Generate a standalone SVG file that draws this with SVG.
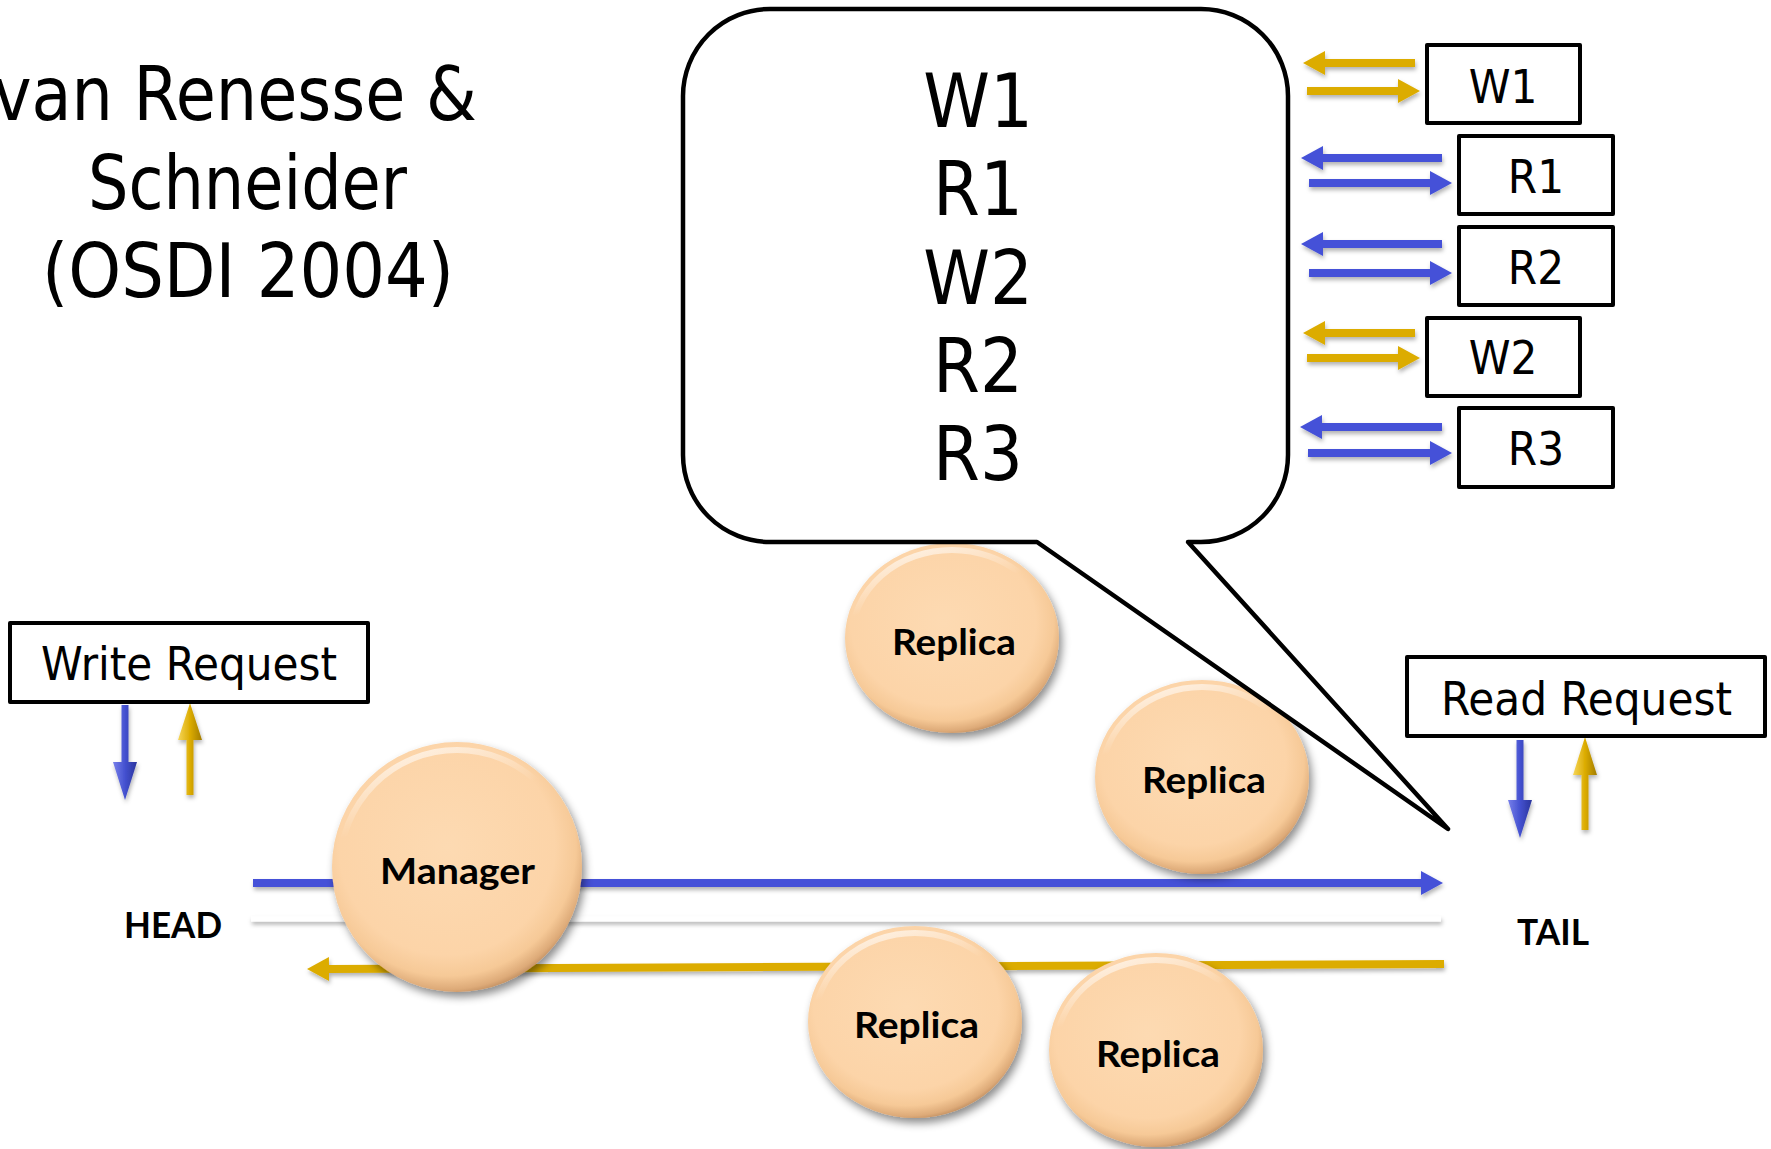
<svg xmlns="http://www.w3.org/2000/svg" width="1771" height="1149" viewBox="0 0 1771 1149">
  <style>
    .serifless { font-family: 'DejaVu Sans Condensed', 'DejaVu Sans', sans-serif; font-stretch: condensed; fill: #000; }
    .title { font-size: 74px; }
    .big { font-size: 75px; }
    .lbl { font-size: 47px; }
    .bold { font-family: Lato, 'Open Sans', 'DejaVu Sans', sans-serif; font-weight: 700; font-size: 37px; fill: #000; }
    .box { fill: #fff; stroke: #000; stroke-width: 4; stroke-linejoin: round; }
    .body { fill: url(#peach); filter: url(#ballShadow); }
    .rim { fill: none; stroke: url(#rimGrad); stroke-width: 6; }
    .blue { stroke: #4451D8; stroke-width: 8; fill: none; }
    .gold { stroke: #DCAC00; stroke-width: 8; fill: none; }
    .blueHead { marker-end: url(#headBlue); }
    .goldHead { marker-end: url(#headGold); }
  </style>
  <defs>
    <radialGradient id="peach" cx="46%" cy="42%" r="60%">
      <stop offset="0" stop-color="#FDDAB2"/>
      <stop offset="0.72" stop-color="#FCD4A8"/>
      <stop offset="0.86" stop-color="#F6C997"/>
      <stop offset="0.95" stop-color="#DDAA78"/>
      <stop offset="1" stop-color="#B9875A"/>
    </radialGradient>
    <linearGradient id="rimGrad" x1="0" y1="0" x2="0.3" y2="1">
      <stop offset="0" stop-color="#FFFFFF" stop-opacity="0.85"/>
      <stop offset="0.35" stop-color="#FFFFFF" stop-opacity="0"/>
      <stop offset="1" stop-color="#FFFFFF" stop-opacity="0"/>
    </linearGradient>
    <linearGradient id="bevelBlue" x1="0" y1="0" x2="1" y2="0">
      <stop offset="0" stop-color="#7880EA"/>
      <stop offset="0.5" stop-color="#4451D0"/>
      <stop offset="1" stop-color="#2A349C"/>
    </linearGradient>
    <linearGradient id="bevelGold" x1="0" y1="0" x2="1" y2="0">
      <stop offset="0" stop-color="#F6D65A"/>
      <stop offset="0.5" stop-color="#DCAC00"/>
      <stop offset="1" stop-color="#A27C00"/>
    </linearGradient>
    <filter id="ballShadow" x="-20%" y="-20%" width="150%" height="150%">
      <feDropShadow dx="3" dy="5" stdDeviation="4" flood-color="#000" flood-opacity="0.45"/>
    </filter>
    <filter id="lineShadow" x="-5%" y="-50%" width="110%" height="200%">
      <feDropShadow dx="1" dy="3" stdDeviation="2" flood-color="#000" flood-opacity="0.3"/>
    </filter>
    <marker id="headBlue" viewBox="0 0 22 24" refX="1" refY="12" markerWidth="22" markerHeight="24" markerUnits="userSpaceOnUse" orient="auto">
      <path d="M0,0 L22,12 L0,24 Z" fill="#4451D8"/>
    </marker>
    <marker id="headGold" viewBox="0 0 22 24" refX="1" refY="12" markerWidth="22" markerHeight="24" markerUnits="userSpaceOnUse" orient="auto">
      <path d="M0,0 L22,12 L0,24 Z" fill="#DCAC00"/>
    </marker>
  </defs>

  <rect width="1771" height="1149" fill="#fff"/>

  <!-- citation -->
  <g id="citation" class="serifless title">
    <text x="-7" y="120" textLength="484" lengthAdjust="spacingAndGlyphs">van Renesse &amp;</text>
    <text x="88" y="209" textLength="319" lengthAdjust="spacingAndGlyphs">Schneider</text>
    <text x="42" y="297" textLength="412" lengthAdjust="spacingAndGlyphs">(OSDI 2004)</text>
  </g>

  <!-- connectors -->
  <g id="connectors" filter="url(#lineShadow)">
    <!-- chain: requests flow head to tail, replies flow back -->
    <line class="blue blueHead" x1="253" y1="883" x2="1422" y2="883"/>
    <line x1="251" y1="919" x2="1441" y2="919" stroke="#fff" stroke-width="5"/>
    <line class="gold goldHead" x1="1444" y1="964" x2="328" y2="969"/>

    <!-- client request / reply arrows -->
    <path d="M121.5,705 H128.5 V762 H137 L125,800 L113,762 H121.5 Z" fill="url(#bevelBlue)"/>
    <path d="M190,703 L202,740 H193.5 V795 H186.5 V740 H178 Z" fill="url(#bevelGold)"/>
    <path d="M1516.5,740 H1523.5 V800 H1532 L1520,838 L1508,800 H1516.5 Z" fill="url(#bevelBlue)"/>
    <path d="M1585,737 L1597,775 H1588.5 V830 H1581.5 V775 H1573 Z" fill="url(#bevelGold)"/>

    <!-- operation arrows beside the log -->
    <line class="gold goldHead" x1="1415" y1="63" x2="1324" y2="63"/>
    <line class="gold goldHead" x1="1307" y1="91" x2="1399" y2="91"/>
    <line class="blue blueHead" x1="1442" y1="158" x2="1322" y2="158"/>
    <line class="blue blueHead" x1="1309" y1="183" x2="1431" y2="183"/>
    <line class="blue blueHead" x1="1442" y1="244" x2="1322" y2="244"/>
    <line class="blue blueHead" x1="1309" y1="273" x2="1431" y2="273"/>
    <line class="gold goldHead" x1="1415" y1="333" x2="1324" y2="333"/>
    <line class="gold goldHead" x1="1307" y1="358" x2="1399" y2="358"/>
    <line class="blue blueHead" x1="1442" y1="427" x2="1321" y2="427"/>
    <line class="blue blueHead" x1="1308" y1="453" x2="1431" y2="453"/>
  </g>

  <!-- chain servers -->
  <g id="manager">
    <ellipse class="body" cx="457" cy="867" rx="125" ry="125"/>
    <ellipse class="rim" cx="457" cy="867" rx="117" ry="117"/>
    <text class="bold" x="380" y="884" textLength="155" lengthAdjust="spacingAndGlyphs">Manager</text>
  </g>
  <g id="replica-1">
    <ellipse class="body" cx="952" cy="638" rx="107" ry="95"/>
    <ellipse class="rim" cx="952" cy="638" rx="100" ry="88"/>
    <text class="bold" x="892" y="655" textLength="124" lengthAdjust="spacingAndGlyphs">Replica</text>
  </g>
  <g id="replica-2">
    <ellipse class="body" cx="1202" cy="777" rx="107" ry="97"/>
    <ellipse class="rim" cx="1202" cy="777" rx="100" ry="90"/>
    <text class="bold" x="1142" y="793" textLength="124" lengthAdjust="spacingAndGlyphs">Replica</text>
  </g>
  <g id="replica-3">
    <ellipse class="body" cx="915" cy="1022" rx="107" ry="96"/>
    <ellipse class="rim" cx="915" cy="1022" rx="100" ry="89"/>
    <text class="bold" x="854" y="1038" textLength="125" lengthAdjust="spacingAndGlyphs">Replica</text>
  </g>
  <g id="replica-4">
    <ellipse class="body" cx="1156" cy="1050" rx="107" ry="97"/>
    <ellipse class="rim" cx="1156" cy="1050" rx="100" ry="90"/>
    <text class="bold" x="1096" y="1067" textLength="124" lengthAdjust="spacingAndGlyphs">Replica</text>
  </g>

  <!-- end labels -->
  <g id="head-label">
    <text class="bold" x="124" y="938" textLength="98" lengthAdjust="spacingAndGlyphs">HEAD</text>
  </g>
  <g id="tail-label">
    <text class="bold" x="1517" y="945" textLength="72" lengthAdjust="spacingAndGlyphs">TAIL</text>
  </g>

  <!-- log callout pointing at the tail -->
  <g id="log-callout">
    <path d="M770,9 H1201 A87,87 0 0 1 1288,96 V455 A87,87 0 0 1 1201,542 H1188 L1448,829 L1037,542 H770 A87,87 0 0 1 683,455 V96 A87,87 0 0 1 770,9 Z" fill="#fff" stroke="#000" stroke-width="4.5" stroke-linejoin="round"/>
    <g class="serifless big" text-anchor="middle">
      <text x="978" y="127">W1</text>
      <text x="978" y="215">R1</text>
      <text x="978" y="304">W2</text>
      <text x="978" y="392">R2</text>
      <text x="978" y="480">R3</text>
    </g>
  </g>

  <!-- client requests -->
  <g id="write-request">
    <rect class="box" x="10" y="623" width="358" height="79"/>
    <text class="serifless lbl" x="41" y="680" textLength="296" lengthAdjust="spacingAndGlyphs">Write Request</text>
  </g>
  <g id="read-request">
    <rect class="box" x="1407" y="657" width="358" height="79"/>
    <text class="serifless lbl" x="1441" y="715" textLength="291" lengthAdjust="spacingAndGlyphs">Read Request</text>
  </g>

  <!-- operations -->
  <g id="op-w1">
    <rect class="box" x="1427" y="45" width="153" height="78"/>
    <text class="serifless lbl" x="1503" y="103" text-anchor="middle">W1</text>
  </g>
  <g id="op-r1">
    <rect class="box" x="1459" y="136" width="154" height="78"/>
    <text class="serifless lbl" x="1536" y="193" text-anchor="middle">R1</text>
  </g>
  <g id="op-r2">
    <rect class="box" x="1459" y="227" width="154" height="78"/>
    <text class="serifless lbl" x="1536" y="284" text-anchor="middle">R2</text>
  </g>
  <g id="op-w2">
    <rect class="box" x="1427" y="318" width="153" height="78"/>
    <text class="serifless lbl" x="1503" y="374" text-anchor="middle">W2</text>
  </g>
  <g id="op-r3">
    <rect class="box" x="1459" y="408" width="154" height="79"/>
    <text class="serifless lbl" x="1536" y="465" text-anchor="middle">R3</text>
  </g>
</svg>
